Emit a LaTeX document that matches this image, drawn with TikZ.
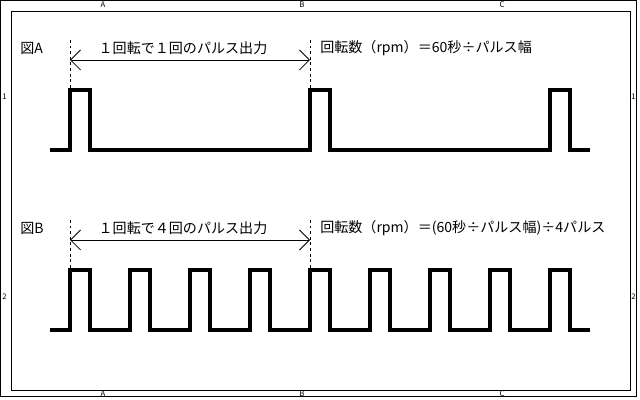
\documentclass[tikz,border=0pt]{standalone}
\usepackage{fontspec}
\setmainfont{Noto Sans CJK JP}
\usetikzlibrary{arrows.meta}

\begin{document}
\begin{tikzpicture}
      [x=0.025cm,y=-0.025cm,
       frame/.style={draw, line width=0.7pt},
       zone/.style={font=\fontsize{5.5}{5.5}\selectfont, inner sep=0pt},
       lbl/.style={font=\fontsize{10}{10}\selectfont, inner sep=0pt, anchor=west},
       wave/.style={line width=2.4pt, line join=miter},
       guide/.style={dashed, line width=0.6pt, dash pattern=on 2pt off 2pt},
       span/.style={line width=0.6pt, {Straight Barb[length=2.5mm,width=5mm]}-{Straight Barb[length=2.5mm,width=5mm]}}]
    \useasboundingbox (0,0) rectangle (640,400);

    % frames
    \draw[frame] (0.5,0.5) rectangle (636,396);
    \draw[frame] (11,11) rectangle (630.5,390.5);

    % zone letters and numbers
    \foreach \z/\x in {A/103, B/302, C/502} {
      \node[zone] (top\z) at (\x,5) {\z};
      \node[zone] (bot\z) at (\x,394) {\z};
    }
    \foreach \r/\y in {1/97, 2/297} {
      \node[zone] (lft\r) at (4.5,\y) {\r};
      \node[zone] (rgt\r) at (633.5,\y) {\r};
    }

    % figure A
    \node[lbl] (figA) at (20,48) {図A};
    \coordinate (a1top) at (70,40);
    \coordinate (a1bot) at (70,90);
    \coordinate (a2top) at (310,40);
    \coordinate (a2bot) at (310,90);
    \coordinate (aL) at (70,60);
    \coordinate (aR) at (310,60);
    \draw[guide] (a1top) -- (a1bot);
    \draw[guide] (a2top) -- (a2bot);
    \draw[span] (aL) -- (aR);
    \node[inner sep=0pt, font=\fontsize{10}{10}\selectfont] (cntA) at (183,48) {１回転で１回のパルス出力};
    \node[lbl] (eqA) at (320,48) {回転数（rpm）＝60秒÷パルス幅};
    \draw[wave] (50,150) -- (70,150)
      \foreach \p in {70,310,550} { -- (\p,150) -- (\p,90) -- (\p+20,90) -- (\p+20,150) }
      -- (590,150);

    % figure B
    \node[lbl] (figB) at (20,228) {図B};
    \coordinate (b1top) at (70,220);
    \coordinate (b1bot) at (70,270);
    \coordinate (b2top) at (310,220);
    \coordinate (b2bot) at (310,270);
    \coordinate (bL) at (70,240);
    \coordinate (bR) at (310,240);
    \draw[guide] (b1top) -- (b1bot);
    \draw[guide] (b2top) -- (b2bot);
    \draw[span] (bL) -- (bR);
    \node[inner sep=0pt, font=\fontsize{10}{10}\selectfont] (cntB) at (183,228) {１回転で４回のパルス出力};
    \node[lbl] (eqB) at (320,228) {回転数（rpm）＝(60秒÷パルス幅)÷4パルス};
    \draw[wave] (50,330) -- (70,330)
      \foreach \p in {70,130,...,550} { -- (\p,330) -- (\p,270) -- (\p+20,270) -- (\p+20,330) }
      -- (590,330);
  \end{tikzpicture}
\end{document}
